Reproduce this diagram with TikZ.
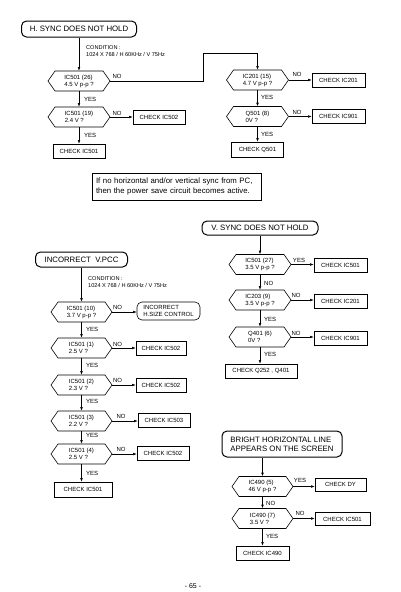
\documentclass[tikz,border=0pt]{standalone}
\usepackage{fontspec}
\setmainfont{Liberation Sans}
\usetikzlibrary{shapes.symbols,arrows.meta}
\begin{document}
\begin{tikzpicture}[x=1pt,y=-1pt,
  hexa/.style={draw, line width=0.6pt, shape=signal, signal to=west and east, signal pointer angle=110, minimum width=62pt, minimum height=20pt, inner sep=0pt, align=left, font=\fontsize{6}{7}\selectfont},
  chk/.style={draw, line width=0.6pt, minimum width=53pt, minimum height=14pt, inner sep=0pt, font=\fontsize{6}{7}\selectfont},
  term/.style={draw, line width=1pt, rounded corners=5pt, inner sep=0pt, font=\fontsize{7.8}{9}\selectfont},
  lbl/.style={font=\fontsize{6}{7}\selectfont, inner sep=0pt},
  cond/.style={font=\fontsize{5.6}{6.6}\selectfont, inner sep=0pt, anchor=north west, align=left},
  arr/.style={line width=0.5pt, -{Latex[length=3.5pt,width=2.6pt]}},
  ln/.style={line width=0.5pt}
]
\fill[white] (0,0) rectangle (400,592);
\useasboundingbox (0,0) rectangle (400,592);

% ---------- H. SYNC DOES NOT HOLD ----------
\node[term, minimum width=115pt, minimum height=16pt] (t1) at (79,29) {H. SYNC DOES NOT HOLD};
\node[cond] (c1) at (86,45.5) {CONDITION :\\1024 X 768 / H 60KHz / V 75Hz};
\node[hexa] (h1) at (79,81) {IC501 (26)\\4.5 V p-p ?};
\node[hexa] (h2) at (79,117) {IC501 (19)\\2.4 V ?};
\node[chk, minimum width=52pt] (b1) at (159,117) {CHECK IC502};
\node[chk, minimum width=52pt] (b2) at (79,151) {CHECK IC501};

\node[hexa] (h3) at (257.5,80) {IC201 (15)\\4.7 V p-p ?};
\node[chk] (b3) at (338.5,80) {CHECK IC201};
\node[hexa] (h4) at (257.5,116.5) {Q501 (8)\\0V ?};
\node[chk] (b4) at (338.5,116.5) {CHECK IC901};
\node[chk, minimum width=52pt, minimum height=15pt] (b5) at (257.5,149.5) {CHECK Q501};
\coordinate (j1) at (203,53);

\draw[arr] (t1.south) -- (h1.north);
\draw[arr] (h1.south) -- (h2.north);
\draw[arr] (h2.east) -- (b1.west);
\draw[arr] (h2.south) -- (b2.north);
\draw[arr] (h1.east) -- (h1.east -| j1) -- (j1) -- (j1 -| h3.north) -- (h3.north);
\draw[arr] (h3.east) -- (h3.east -| b3.west);
\draw[arr] (h3.south) -- (h4.north);
\draw[arr] (h4.east) -- (h4.east -| b4.west);
\draw[arr] (h4.south) -- (b5.north);

\node[lbl] (n1) at (117,76) {NO};
\node[lbl, anchor=west] (y1) at (84,99) {YES};
\node[lbl] (n2) at (117,113) {NO};
\node[lbl, anchor=west] (y2) at (84,135) {YES};
\node[lbl] (n3) at (297,74.5) {NO};
\node[lbl, anchor=west] (y3) at (261,97) {YES};
\node[lbl] (n4) at (297,112) {NO};
\node[lbl, anchor=west] (y4) at (261,134) {YES};

\node[draw, line width=0.6pt, minimum width=169pt, minimum height=27pt, text width=161pt, align=left, inner sep=4pt, font=\fontsize{7.8}{9.5}\selectfont] (note) at (176.5,186.5) {If no horizontal and/or vertical sync from PC,\\then the power save circuit becomes active.};

% ---------- V. SYNC DOES NOT HOLD ----------
\node[term, minimum width=116pt, minimum height=14pt] (t2) at (260,228) {V. SYNC DOES NOT HOLD};
\node[hexa] (h5) at (260,264.5) {IC501 (27)\\3.5 V p-p ?};
\node[chk] (b6) at (340.5,265) {CHECK IC501};
\node[hexa] (h6) at (260,300) {IC203 (9)\\3.5 V p-p ?};
\node[chk] (b7) at (340.5,301) {CHECK IC201};
\node[hexa] (h7) at (260,337) {Q401 (6)\\0V ?};
\node[chk] (b8) at (340.5,338) {CHECK IC901};
\node[chk, minimum width=72pt] (b9) at (261,371) {CHECK Q252 , Q401};

\draw[arr] (t2.south) -- (h5.north);
\draw[arr] (h5.east) -- (h5.east -| b6.west);
\draw[arr] (h5.south) -- (h6.north);
\draw[arr] (h6.east) -- (h6.east -| b7.west);
\draw[arr] (h6.south) -- (h7.north);
\draw[arr] (h7.east) -- (h7.east -| b8.west);
\draw[arr] (h7.south) -- (h7.south |- b9.north);

\node[lbl] (y5) at (299,260) {YES};
\node[lbl, anchor=west] (n5) at (264,283) {NO};
\node[lbl] (n6) at (296,295) {NO};
\node[lbl, anchor=west] (y6) at (264,319) {YES};
\node[lbl] (n7) at (296,333) {NO};
\node[lbl, anchor=west] (y7) at (264,354) {YES};

% ---------- INCORRECT V.PCC ----------
\node[term, minimum width=92pt, minimum height=15pt] (t3) at (81.5,259.5) {INCORRECT\ \ V.PCC};
\node[cond] (c2) at (88,276.5) {CONDITION :\\1024 X 768 / H 60KHz / V 75Hz};
\node[hexa, minimum width=61pt] (h8) at (81.5,312) {IC501 (10)\\3.7 V p-p ?};
\node[draw, line width=0.6pt, rounded corners=5pt, minimum width=63pt, minimum height=18pt, inner sep=0pt, align=left, font=\fontsize{6}{7}\selectfont] (r1) at (168.5,311) {INCORRECT\\H.SIZE CONTROL};
\node[hexa, minimum width=61pt] (h9) at (81.5,348) {IC501 (1)\\2.5 V ?};
\node[chk, minimum width=50pt] (b10) at (161,348.5) {CHECK IC502};
\node[hexa, minimum width=61pt] (h10) at (81.5,385) {IC501 (2)\\2.3 V ?};
\node[chk, minimum width=50pt] (b11) at (161,385) {CHECK IC502};
\node[hexa, minimum width=61pt] (h11) at (81.5,421) {IC501 (3)\\2.2 V ?};
\node[chk, minimum width=52pt] (b12) at (164,420.5) {CHECK IC503};
\node[hexa, minimum width=61pt] (h12) at (81.5,454) {IC501 (4)\\2.5 V ?};
\node[chk, minimum width=52pt] (b13) at (163,453) {CHECK IC502};
\node[chk, minimum width=58pt, minimum height=15pt] (b14) at (83,489.5) {CHECK IC501};

\draw[arr] (t3.south) -- (h8.north);
\draw[arr] (h8.east) -- (h8.east -| r1.west);
\draw[arr] (h8.south) -- (h9.north);
\draw[arr] (h9.east) -- (h9.east -| b10.west);
\draw[arr] (h9.south) -- (h10.north);
\draw[arr] (h10.east) -- (h10.east -| b11.west);
\draw[arr] (h10.south) -- (h11.north);
\draw[arr] (h11.east) -- (h11.east -| b12.west);
\draw[arr] (h11.south) -- (h12.north);
\draw[arr] (h12.east) -- (h12.east -| b13.west);
\draw[arr] (h12.south) -- (h12.south |- b14.north);

\node[lbl] (n8) at (117.5,307) {NO};
\node[lbl, anchor=west] (y8) at (86,329) {YES};
\node[lbl] (n9) at (117.5,344) {NO};
\node[lbl, anchor=west] (y9) at (86,365) {YES};
\node[lbl] (n10) at (117.5,380) {NO};
\node[lbl, anchor=west] (y10) at (86,401) {YES};
\node[lbl] (n11) at (121,416) {NO};
\node[lbl, anchor=west] (y11) at (86,435) {YES};
\node[lbl] (n12) at (121,449) {NO};
\node[lbl, anchor=west] (y12) at (86,473) {YES};

% ---------- BRIGHT HORIZONTAL LINE ----------
\node[term, minimum width=120pt, minimum height=26pt, align=left] (t4) at (282,444) {BRIGHT HORIZONTAL LINE\\APPEARS ON THE SCREEN};
\node[hexa, minimum width=61pt] (h13) at (262.5,486.5) {IC490 (5)\\46 V p-p ?};
\node[chk, minimum width=51pt, minimum height=13pt] (b15) at (340.5,484.5) {CHECK DY};
\node[hexa, minimum width=61pt] (h14) at (262.5,518.5) {IC490 (7)\\3.5 V ?};
\node[chk, minimum width=55pt, minimum height=13pt] (b16) at (342.5,519) {CHECK IC501};
\node[chk] (b17) at (262.5,553) {CHECK IC490};

\draw[arr] (t4.south -| h13.north) -- (h13.north);
\draw[arr] (h13.east) -- (h13.east -| b15.west);
\draw[arr] (h13.south) -- (h14.north);
\draw[arr] (h14.east) -- (h14.east -| b16.west);
\draw[arr] (h14.south) -- (b17.north);

\node[lbl] (y13) at (300,480) {YES};
\node[lbl, anchor=west] (n13) at (266,503) {NO};
\node[lbl] (n14) at (300,513) {NO};
\node[lbl, anchor=west] (y14) at (266,536) {YES};

\node[lbl, font=\fontsize{7}{8}\selectfont] (pg) at (193,586) {- 65 -};
\end{tikzpicture}
\end{document}
